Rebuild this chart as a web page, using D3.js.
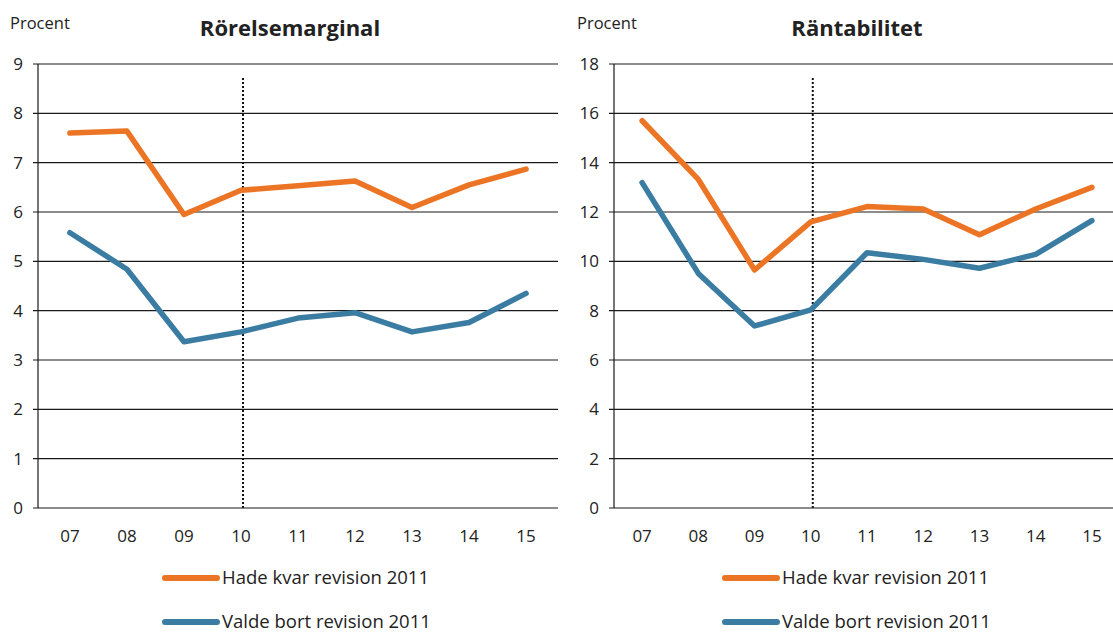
<!DOCTYPE html>
<html>
<head>
<meta charset="utf-8">
<script src="https://cdn.jsdelivr.net/npm/d3@7"></script>
<style>
  body { margin: 0; background: #fff; }
  text { font-family: "Open Sans", "Noto Sans", sans-serif; fill: #222; }
</style>
</head>
<body>
<svg id="mainsvg" width="1113" height="632"></svg>
<script>
  const years = ["07", "08", "09", "10", "11", "12", "13", "14", "15"];
  const seriesNames = ["Hade kvar revision 2011", "Valde bort revision 2011"];
  const colors = ["#ec7525", "#3a7ca2"];

  // Rörelsemarginal
  const marginKept = [7.6, 7.64, 5.95, 6.44, 6.53, 6.63, 6.09, 6.55, 6.87];
  const marginDropped = [5.58, 4.84, 3.37, 3.57, 3.85, 3.96, 3.57, 3.76, 4.35];
  // Räntabilitet
  const returnKept = [15.7, 13.32, 9.65, 11.6, 12.22, 12.12, 11.08, 12.12, 13.0];
  const returnDropped = [13.19, 9.51, 7.38, 8.03, 10.35, 10.08, 9.72, 10.28, 11.65];

  const leftTicks = [0, 1, 2, 3, 4, 5, 6, 7, 8, 9];
  const rightTicks = [0, 2, 4, 6, 8, 10, 12, 14, 16, 18];

  const svg = d3.select("#mainsvg");
  const plotTop = 64, plotBottom = 508;

  const panels = [
    { title: "Rörelsemarginal", x0: 38, x1: 558, xr: 558, pad: 0.56, titleX: 290, procentX: 10,
      ticks: leftTicks, max: 9, data: [marginKept, marginDropped], legendX: 165 },
    { title: "Räntabilitet", x0: 614, x1: 1120, xr: 1113, pad: 0.5, titleX: 857, procentX: 577,
      ticks: rightTicks, max: 18, data: [returnKept, returnDropped], legendX: 725 }
  ];

  panels.forEach(p => {
    const g = svg.append("g");
    const x = d3.scalePoint().domain(years).range([p.x0, p.x1]).padding(p.pad);
    const y = d3.scaleLinear().domain([0, p.max]).range([plotBottom, plotTop]);

    g.append("text").attr("x", p.procentX).attr("y", 29)
      .style("font-size", "16.5px").text("Procent");
    g.append("text").attr("x", p.titleX).attr("y", 36)
      .attr("text-anchor", "middle")
      .style("font-size", "22px").style("font-weight", "bold").text(p.title);

    // grid
    g.selectAll(".grid").data(p.ticks).join("line")
      .attr("x1", p.x0 - 5).attr("x2", p.xr)
      .attr("y1", d => y(d)).attr("y2", d => y(d))
      .attr("stroke", "#1a1a1a").attr("stroke-width", 1.2);
    g.append("line")
      .attr("x1", p.x0).attr("x2", p.x0).attr("y1", plotTop).attr("y2", plotBottom)
      .attr("stroke", "#1a1a1a").attr("stroke-width", 1.2);

    g.selectAll(".ylab").data(p.ticks).join("text")
      .attr("x", p.x0 - 15).attr("y", d => y(d) + 6)
      .attr("text-anchor", "end")
      .style("font-size", "17px").text(d => d);

    g.selectAll(".xlab").data(years).join("text")
      .attr("x", d => x(d)).attr("y", 542)
      .attr("text-anchor", "middle")
      .style("font-size", "17px").text(d => d);

    // dotted marker at 10
    g.append("line")
      .attr("x1", x("10") + 2).attr("x2", x("10") + 2)
      .attr("y1", 78).attr("y2", plotBottom)
      .attr("stroke", "#111").attr("stroke-width", 2)
      .attr("stroke-dasharray", "2,2");

    const line = d3.line().x((d, i) => x(years[i])).y(d => y(d));
    p.data.forEach((s, k) => {
      g.append("path").datum(s)
        .attr("d", line)
        .attr("fill", "none")
        .attr("stroke", colors[k])
        .attr("stroke-width", 5.5)
        .attr("stroke-linejoin", "round")
        .attr("stroke-linecap", "round");
    });

    // legend
    seriesNames.forEach((name, k) => {
      const ly = 578 + k * 44;
      g.append("line")
        .attr("x1", p.legendX).attr("x2", p.legendX + 52)
        .attr("y1", ly).attr("y2", ly)
        .attr("stroke", colors[k]).attr("stroke-width", 6)
        .attr("stroke-linecap", "round");
      g.append("text").attr("x", p.legendX + 57).attr("y", ly + 6)
        .style("font-size", "18.5px").text(name);
    });
  });
</script>
</body>
</html>
